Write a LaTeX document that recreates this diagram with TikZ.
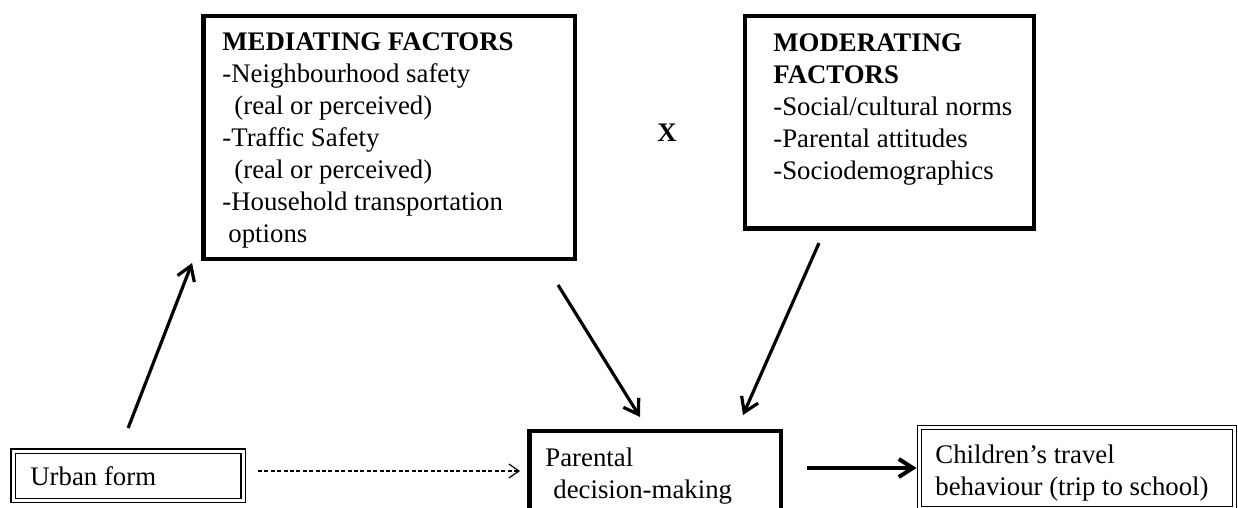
\documentclass[tikz,border=0pt]{standalone}
\usepackage{fontspec}
\setmainfont{Liberation Serif}
\usetikzlibrary{arrows.meta}
\begin{document}
\begin{tikzpicture}[x=0.5pt,y=-0.5pt,
  box/.style={draw, line width=2.2pt, inner sep=0pt, outer sep=0pt},
  dbox/.style={draw, double, line width=0.7pt, double distance=1.5pt, inner sep=0pt, outer sep=0pt},
  txt/.style={anchor=north west, inner sep=0pt, align=left, font=\fontsize{13.4}{16}\selectfont},
  arr/.style={line width=1.6pt, -{Straight Barb[length=7pt,width=9pt]}}]
  \useasboundingbox (0,0) rectangle (1238,508);
  % Caixes
  \node[box, minimum width=185.75pt, minimum height=121.5pt] (medbox) at (389.3,137.5) {};
  \node[box, minimum width=144.5pt, minimum height=106.25pt] (modbox) at (889.5,122.25) {};
  \node[box, minimum width=125.75pt, minimum height=54.5pt] (parbox) at (655.25,485.5) {};
  \node[dbox, minimum width=114.85pt, minimum height=24.75pt] (urbanbox) at (128.15,475.75) {};
  \node[dbox, minimum width=157.5pt, minimum height=40.5pt] (childbox) at (1077,468) {};
  % Textos
  \node[txt] (medtext) at (222,32.5) {\textbf{MEDIATING FACTORS}\\
    -Neighbourhood safety\\
    \hspace*{6pt}(real or perceived)\\
    -Traffic Safety\\
    \hspace*{6pt}(real or perceived)\\
    -Household transportation\\
    \hspace*{3pt}options};
  \node[txt] (modtext) at (773,33.5) {\textbf{MODERATING}\\
    \textbf{FACTORS}\\
    -Social/cultural norms\\
    -Parental attitudes\\
    -Sociodemographics};
  \node[txt] (partext) at (545,447.4) {Parental\\ \hspace*{4pt}decision-making};
  \node[txt] (childtext) at (935,445) {Children’s travel\\ behaviour (trip to school)};
  \node[txt, anchor=base west] (urbantext) at (30,485) {Urban form};
  \node[txt, anchor=base, font=\fontsize{13.4}{16}\selectfont\bfseries] (xmark) at (667,142) {X};
  % Fletxes
  \draw[arr] ([shift={(0,-23)}]urbanbox.north) -- ([shift={(-11.5,4)}]medbox.south west);
  \draw[arr] ([shift={(-17,26)}]medbox.south east) -- ([shift={(-15.25,-14)}]parbox.north);
  \draw[arr] ([shift={(-70.5,14.5)}]modbox.south) -- ([shift={(-38,-16)}]parbox.north east);
  \draw[line width=0.6pt, dash pattern=on 2pt off 1.2pt, -{Straight Barb[length=5pt,width=7pt]}]
    ([shift={(15,-4.75)}]urbanbox.east) -- ([shift={(-9.5,-14.5)}]parbox.west);
  \draw[line width=2pt, -{Straight Barb[length=7pt,width=9pt]}]
    ([shift={(26,-17.5)}]parbox.east) -- ([shift={(-3,0)}]childbox.west);
\end{tikzpicture}
\end{document}
